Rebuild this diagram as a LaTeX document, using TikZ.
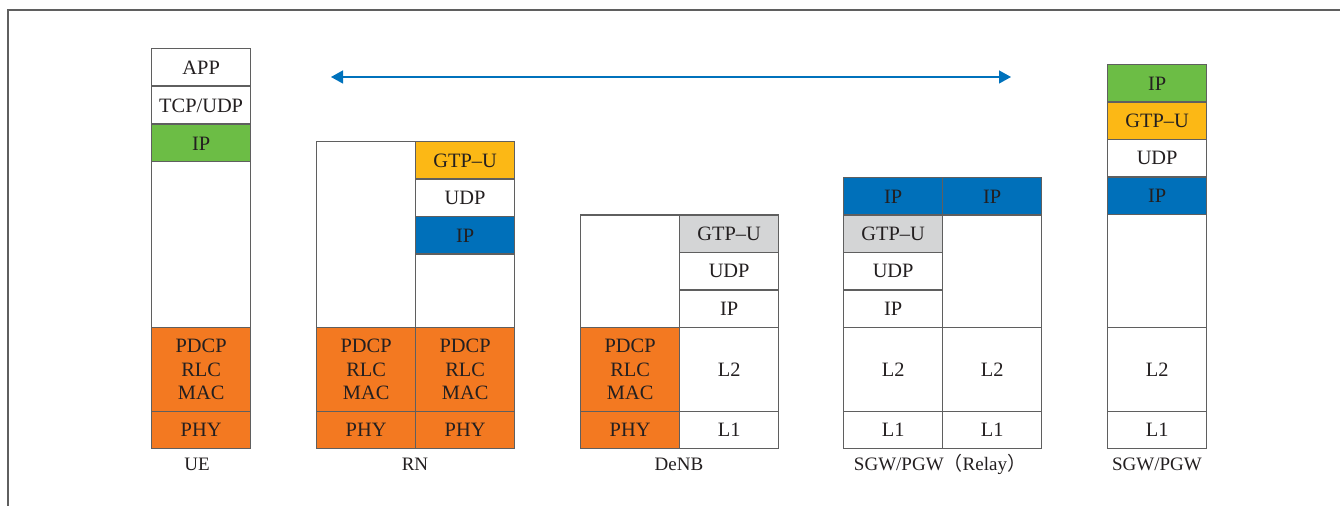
\documentclass[tikz,border=0pt]{standalone}
\usepackage{fontspec}
\setmainfont{Liberation Serif}
\newfontfamily\cjk{Noto Sans CJK SC}
\usetikzlibrary{arrows.meta}

\definecolor{ipgreen}{RGB}{108,189,69}
\definecolor{radioorange}{RGB}{243,121,33}
\definecolor{gtpyellow}{RGB}{252,184,21}
\definecolor{ipblue}{RGB}{0,112,186}
\definecolor{gtpgray}{RGB}{212,213,214}
\definecolor{arrowblue}{RGB}{0,114,188}
\definecolor{edgegray}{RGB}{95,95,95}
\definecolor{inkgray}{RGB}{35,31,32}

\tikzset{
  layer/.style={draw=edgegray, line width=0.65pt, fill=white, minimum width=49.5pt,
    minimum height=18.75pt, inner sep=0pt, anchor=north west, align=center,
    text=inkgray, font=\fontsize{10.2}{11.75}\selectfont},
  tall/.style={minimum height=42pt},
  radio/.style={layer, tall, fill=radioorange},
  phyrow/.style={layer, minimum height=18.5pt},
  nodename/.style={anchor=base, text=inkgray, font=\fontsize{9.5}{11}\selectfont},
  peerarrow/.style={arrowblue, line width=0.65pt, {Triangle[length=6pt,width=6.5pt]}-{Triangle[length=6pt,width=6.5pt]}}
}

\begin{document}
\begin{tikzpicture}[x=0.5pt, y=-0.5pt]
    \useasboundingbox (0,0) rectangle (1340,506);
    \draw[edgegray, line width=0.6pt] (8,506) -- (8,10) -- (1340,10);

    % UE
    \node[layer] (ue-app) at (151,48) {APP};
    \node[layer] (ue-tcp) at (151,86) {TCP/UDP};
    \node[layer, fill=ipgreen] (ue-ip) at (151,124) {IP};
    \node[layer, minimum height=83pt] (ue-blank) at (151,161) {};
    \node[radio] (ue-radio) at (151,327) {PDCP\\RLC\\MAC};
    \node[phyrow, fill=radioorange] (ue-phy) at (151,411) {PHY};
    \node[nodename] (ue-label) at (197,471) {UE};

    % RN
    \node[layer, minimum height=93pt] (rn-blank) at (316,141) {};
    \node[layer, fill=gtpyellow] (rn-gtp) at (415,141) {GTP--U};
    \node[layer] (rn-udp) at (415,178.5) {UDP};
    \node[layer, fill=ipblue] (rn-ip) at (415,216) {IP};
    \node[layer, minimum height=36.75pt] (rn-blank2) at (415,253.5) {};
    \node[radio] (rn-radio1) at (316,327) {PDCP\\RLC\\MAC};
    \node[radio] (rn-radio2) at (415,327) {PDCP\\RLC\\MAC};
    \node[phyrow, fill=radioorange] (rn-phy1) at (316,411) {PHY};
    \node[phyrow, fill=radioorange] (rn-phy2) at (415,411) {PHY};
    \node[nodename] (rn-label) at (415,471) {RN};

    % DeNB
    \node[layer, minimum height=56.25pt] (denb-blank) at (580,214.5) {};
    \node[layer, fill=gtpgray] (denb-gtp) at (679,214.5) {GTP--U};
    \node[layer] (denb-udp) at (679,252) {UDP};
    \node[layer] (denb-ip) at (679,289.5) {IP};
    \node[radio] (denb-radio) at (580,327) {PDCP\\RLC\\MAC};
    \node[layer, tall] (denb-l2) at (679,327) {L2};
    \node[phyrow, fill=radioorange] (denb-phy) at (580,411) {PHY};
    \node[phyrow] (denb-l1) at (679,411) {L1};
    \node[nodename] (denb-label) at (679,471) {DeNB};

    % SGW/PGW (Relay)
    \node[layer, fill=ipblue] (relay-ip1) at (843,177) {IP};
    \node[layer, fill=ipblue] (relay-ip2) at (942,177) {IP};
    \node[layer, fill=gtpgray] (relay-gtp) at (843,214.5) {GTP--U};
    \node[layer] (relay-udp) at (843,252) {UDP};
    \node[layer] (relay-ip3) at (843,289.5) {IP};
    \node[layer, minimum height=56.25pt] (relay-blank) at (942,214.5) {};
    \node[layer, tall] (relay-l2a) at (843,327) {L2};
    \node[layer, tall] (relay-l2b) at (942,327) {L2};
    \node[phyrow] (relay-l1a) at (843,411) {L1};
    \node[phyrow] (relay-l1b) at (942,411) {L1};
    \node[nodename] (relay-label) at (940,471) {SGW/PGW{\cjk （}Relay{\cjk ）}};

    % SGW/PGW
    \node[layer, fill=ipgreen] (sgw-ip1) at (1107,64) {IP};
    \node[layer, fill=gtpyellow] (sgw-gtp) at (1107,101.5) {GTP--U};
    \node[layer] (sgw-udp) at (1107,139) {UDP};
    \node[layer, fill=ipblue] (sgw-ip2) at (1107,176.5) {IP};
    \node[layer, minimum height=56.5pt] (sgw-blank) at (1107,214) {};
    \node[layer, tall] (sgw-l2) at (1107,327) {L2};
    \node[phyrow] (sgw-l1) at (1107,411) {L1};
    \node[nodename] (sgw-label) at (1157,471) {SGW/PGW};

    % peer arrow
    \coordinate (peer-l) at (331,77);
    \coordinate (peer-r) at (1011,77);
    \draw[peerarrow] (peer-l) -- (peer-r);
\end{tikzpicture}
\end{document}
